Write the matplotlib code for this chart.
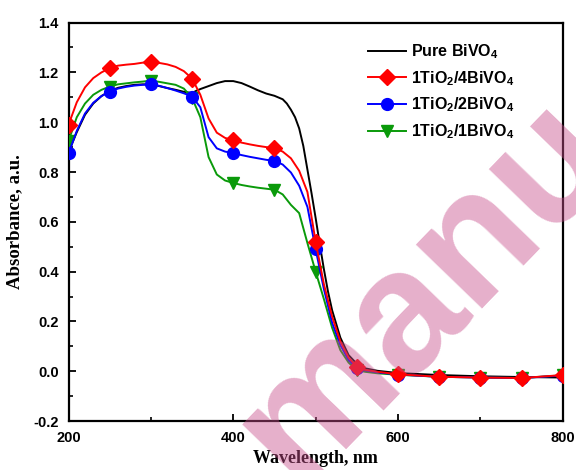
import matplotlib
matplotlib.use('Agg')
import matplotlib.pyplot as plt
from matplotlib.ticker import MultipleLocator

plt.rcParams['mathtext.fontset'] = 'custom'
plt.rcParams['mathtext.rm'] = 'Liberation Sans:bold'
plt.rcParams['mathtext.it'] = 'Liberation Sans:bold'
plt.rcParams['mathtext.bf'] = 'Liberation Sans:bold'
plt.rcParams['axes.unicode_minus'] = False

# ---- data ----
wl = [200, 210, 220, 230, 240, 250, 260, 270, 280, 290, 300, 310, 320, 330, 340,
      350, 360, 370, 380, 390, 400, 410, 420, 430, 440, 450, 460, 470, 480, 490,
      500, 510, 520, 530, 540, 550, 560, 575, 600, 650, 700, 750, 800]

ti_4bv = [0.990, 1.080, 1.140, 1.177, 1.200, 1.217, 1.227, 1.231, 1.234, 1.239,
          1.243, 1.238, 1.232, 1.222, 1.205, 1.175, 1.110, 1.015, 0.958, 0.937,
          0.927, 0.918, 0.911, 0.905, 0.900, 0.896, 0.882, 0.855, 0.805, 0.720,
          0.520, 0.350, 0.220, 0.120, 0.055, 0.018, 0.006, -0.002, -0.012, -0.022,
          -0.025, -0.027, -0.015]

ti_2bv = [0.875, 0.965, 1.035, 1.078, 1.105, 1.123, 1.135, 1.142, 1.147, 1.150,
          1.152, 1.146, 1.137, 1.127, 1.116, 1.103, 1.060, 0.940, 0.895, 0.882,
          0.876, 0.868, 0.861, 0.855, 0.849, 0.845, 0.830, 0.798, 0.745, 0.660,
          0.490, 0.330, 0.195, 0.105, 0.045, 0.014, 0.004, -0.004, -0.013, -0.022,
          -0.025, -0.027, -0.017]

ti_1bv = [0.925, 1.020, 1.075, 1.110, 1.130, 1.143, 1.152, 1.156, 1.160, 1.163,
          1.167, 1.162, 1.156, 1.150, 1.135, 1.097, 1.020, 0.860, 0.790, 0.766,
          0.756, 0.748, 0.742, 0.737, 0.733, 0.729, 0.710, 0.668, 0.635, 0.515,
          0.400, 0.290, 0.175, 0.085, 0.035, 0.005, -0.002, -0.008, -0.014, -0.022,
          -0.025, -0.027, -0.016]

wl_pure = [200, 210, 220, 230, 240, 250, 260, 270, 280, 290, 300, 310, 320, 330,
           340, 350, 355, 360, 370, 380, 390, 400, 410, 420, 430, 440, 450, 460,
           465, 470, 475, 480, 485, 490, 495, 500, 505, 510, 515, 520, 530, 540,
           550, 560, 575, 600, 650, 700, 750, 800]
pure_bv = [0.880, 0.960, 1.030, 1.075, 1.105, 1.125, 1.138, 1.145, 1.150, 1.152,
           1.152, 1.145, 1.137, 1.130, 1.122, 1.117, 1.126, 1.133, 1.145, 1.157,
           1.165, 1.165, 1.157, 1.143, 1.128, 1.115, 1.106, 1.092, 1.075, 1.050,
           1.020, 0.975, 0.905, 0.810, 0.715, 0.615, 0.510, 0.410, 0.320, 0.245,
           0.135, 0.065, 0.030, 0.012, 0.002, -0.007, -0.015, -0.020, -0.023, -0.025]

labels = [r'Pure BiVO$_4$', r'1TiO$_2$/4BiVO$_4$', r'1TiO$_2$/2BiVO$_4$', r'1TiO$_2$/1BiVO$_4$']
x_ticks = [200, 400, 600, 800]
y_ticks = [-0.2, 0.0, 0.2, 0.4, 0.6, 0.8, 1.0, 1.2, 1.4]

mark_idx = [i for i, w in enumerate(wl) if w % 50 == 0]

fig = plt.figure(figsize=(5.76, 4.70), dpi=100)
ax = fig.add_axes([0.119, 0.104, 0.858, 0.848])

ax.plot(wl_pure, pure_bv, color='black', lw=1.4, label=labels[0], zorder=2)
ax.plot(wl, ti_1bv, color='#0a9a0a', lw=1.4, marker='v', ms=9, markevery=mark_idx,
        label=labels[3], zorder=3)
ax.plot(wl, ti_2bv, color='#0000ff', lw=1.4, marker='o', ms=8.5, markevery=mark_idx,
        label=labels[2], zorder=4)
ax.plot(wl, ti_4bv, color='#ff0000', lw=1.4, marker='D', ms=8, markevery=mark_idx,
        label=labels[1], zorder=5)

ax.set_xlim(200, 800)
ax.set_ylim(-0.2, 1.4)
ax.set_xticks(x_ticks)
ax.set_yticks(y_ticks)
ax.set_yticklabels([f'{v:.1f}' for v in y_ticks])
ax.xaxis.set_minor_locator(MultipleLocator(100))
ax.yaxis.set_minor_locator(MultipleLocator(0.1))
ax.tick_params(which='major', direction='in', length=5, width=1.3, top=False, right=False)
ax.tick_params(which='minor', direction='in', length=3, width=1.2, top=False, right=False)
ax.tick_params(axis='x', which='major', pad=7)
ax.tick_params(axis='y', which='major', pad=7)
for lab in ax.get_xticklabels() + ax.get_yticklabels():
    lab.set_fontfamily('Liberation Sans')
    lab.set_fontweight('bold')
    lab.set_fontsize(10.5)
for s in ax.spines.values():
    s.set_linewidth(1.6)

ax.set_xlabel('Wavelength, nm', family='Liberation Serif', fontweight='bold', fontsize=13,
              labelpad=4)
ax.set_ylabel('Absorbance, a.u.', family='Liberation Serif', fontweight='bold', fontsize=13.5,
              labelpad=7)

h, l = ax.get_legend_handles_labels()
order = [0, 3, 2, 1]
leg = ax.legend([h[i] for i in order], [l[i] for i in order], loc='upper left',
                bbox_to_anchor=(0.639, 0.91), bbox_transform=fig.transFigure,
                frameon=False, borderpad=0, borderaxespad=0, handlelength=2.4,
                handletextpad=0.3, labelspacing=0.5,
                prop={'family': 'Liberation Sans', 'weight': 'bold', 'size': 11.5})

# watermark
fig.text(0.515, -0.040, 'manu', rotation=46, rotation_mode='anchor', ha='left',
         va='baseline', fontsize=125, fontweight='bold', family='Liberation Sans',
         color=(200/255, 80/255, 140/255), alpha=0.45, zorder=10)

fig.savefig('out.png', dpi=100)
